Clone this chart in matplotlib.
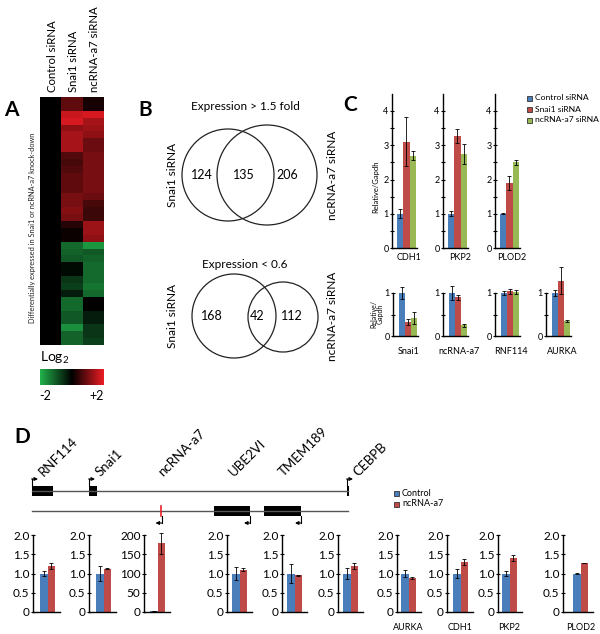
import numpy as np
import matplotlib
matplotlib.use("Agg")
import matplotlib.pyplot as plt
from matplotlib.colors import LinearSegmentedColormap
from matplotlib.patches import Circle, Rectangle

plt.rcParams['font.family'] = ['Lato', 'DejaVu Sans']

# ---- data -------------------------------------------------------------
# Panel A heatmap (log2, one entry per row, top to bottom)
heat_cols = ["Control siRNA", "Snai1 siRNA", "ncRNA-a7 siRNA"]
heat_snai1 = [0.8, 0.8, 1.7, 1.8, 1.2, 1.4, 1.4, 1.4, 0.7, 0.6, 0.7, 0.8,
              0.8, 0.8, 1.0, 1.0, 1.1, 1.0, 0.3, 0.1, 0.1, -1.2, -1.1, -1.0,
              -0.1, -0.1, -0.6, -0.7, -0.3, -1.2, -1.2, -1.0, -1.0, -1.6, -1.1, -1.1]
heat_ncrna = [0.2, 0.2, 1.8, 1.4, 1.3, 1.2, 0.9, 0.9, 1.0, 1.0, 1.0, 1.0,
              1.0, 1.0, 0.9, 0.6, 0.5, 0.5, 1.3, 1.3, 1.2, -1.7, -1.0, -1.1,
              -1.2, -1.2, -1.2, -1.3, -1.2, 0.0, 0.0, -0.3, -0.3, -0.6, -0.6, -0.7]

# Panel B venn counts
venn_up = [124, 135, 206]
venn_down = [168, 42, 112]

# Panel C qPCR (relative/Gapdh)
c_top_genes = ["CDH1", "PKP2", "PLOD2"]
c_top_ctrl = [1.0, 1.0, 1.0]
c_top_ctrl_err = [0.13, 0.07, 0.01]
c_top_snai1 = [3.1, 3.28, 1.9]
c_top_snai1_err = [0.72, 0.2, 0.2]
c_top_ncrna = [2.7, 2.75, 2.5]
c_top_ncrna_err = [0.12, 0.3, 0.08]

c_bot_genes = ["Snai1", "ncRNA-a7", "RNF114", "AURKA"]
c_bot_ctrl = [1.0, 1.0, 1.0, 1.0]
c_bot_ctrl_err = [0.15, 0.17, 0.05, 0.06]
c_bot_snai1 = [0.32, 0.9, 1.04, 1.29]
c_bot_snai1_err = [0.07, 0.06, 0.06, 0.32]
c_bot_ncrna = [0.42, 0.25, 1.03, 0.35]
c_bot_ncrna_err = [0.13, 0.03, 0.05, 0.03]

# Panel D locus + qPCR
d_genes = ["RNF114", "Snai1", "ncRNA-a7", "UBE2VI", "TMEM189", "CEBPB",
           "AURKA", "CDH1", "PKP2", "PLOD2"]
d_ctrl = [1.0, 1.0, 2.0, 1.0, 1.0, 1.0, 1.0, 1.0, 1.0, 1.0]
d_ctrl_err = [0.06, 0.2, 0.5, 0.18, 0.25, 0.15, 0.08, 0.12, 0.06, 0.005]
d_kd = [1.2, 1.12, 178.0, 1.1, 0.95, 1.2, 0.88, 1.3, 1.4, 1.27]
d_kd_err = [0.08, 0.01, 28.0, 0.03, 0.01, 0.08, 0.03, 0.08, 0.08, 0.005]
d_labeled = ["AURKA", "CDH1", "PKP2", "PLOD2"]

# locus drawing (pixel positions along the track)
fwd_genes = ["RNF114", "Snai1", "CEBPB"]
fwd_start = [32, 89, 347]
fwd_end = [53, 97, 349]
rev_genes = ["ncRNA-a7", "UBE2VI", "TMEM189"]
rev_start = [160.5, 214, 264]
rev_end = [161.5, 250, 301]

BLUE, RED, GREEN = "#4a7ebb", "#be4b48", "#98b954"

# ---- layout helpers ----------------------------------------------------
W, H = 600, 634
fig = plt.figure(figsize=(6, 6.34), dpi=100)


def px_axes(left, top, right, bottom):
    return fig.add_axes([left / W, 1 - bottom / H, (right - left) / W, (bottom - top) / H])


canvas = px_axes(0, 0, W, H)
canvas.set_xlim(0, W)
canvas.set_ylim(H, 0)
canvas.axis('off')


def bar_axes(spine_x, top_y, zero_y, n, bw, off, pad, ylim, ticks, labels, minor=None, fs=6.5):
    right = spine_x + off + n * bw + pad
    ax = px_axes(spine_x, top_y, right, zero_y)
    ax.set_facecolor('none')
    ax.set_xlim(-0.5 - off / bw, n - 0.5 + pad / bw)
    ax.set_ylim(*ylim)
    for s in ['top', 'right']:
        ax.spines[s].set_visible(False)
    for s in ['left', 'bottom']:
        ax.spines[s].set_linewidth(1.0)
    ax.set_xticks([])
    ax.set_yticks(ticks)
    ax.set_yticklabels(labels)
    if minor is not None:
        ax.set_yticks(minor, minor=True)
    ax.tick_params(axis='y', which='both', direction='inout', length=3, width=0.8,
                   labelsize=fs, pad=1)
    return ax


def draw_bars(ax, vals, errs, colors):
    for i, (v, e, c) in enumerate(zip(vals, errs, colors)):
        ax.bar(i, v, width=1.0, color=c, clip_on=False, zorder=2)
        ax.errorbar(i, v, yerr=e, fmt='none', ecolor='black', elinewidth=0.6,
                    capsize=1.5, capthick=0.6, clip_on=False, zorder=3)


# ---- panel letters ------------------------------------------------------
for letter, x, y in [("A", 11, 110), ("B", 145, 110), ("C", 350, 105), ("D", 22, 437)]:
    canvas.text(x, y, letter, fontsize=15, fontweight='bold', ha='center', va='center')

# ---- panel A --------------------------------------------------------------
cmap = LinearSegmentedColormap.from_list('gkr', ['#22b24c', '#000000', '#ed1c24'])
heat = np.array([np.zeros(len(heat_snai1)), heat_snai1, heat_ncrna]).T
ax_h = px_axes(40, 97, 104, 345)
ax_h.imshow(heat, cmap=cmap, vmin=-2, vmax=2, aspect='auto', interpolation='nearest')
ax_h.axis('off')

for i, lab in enumerate(heat_cols):
    canvas.text(52 + 21.5 * i, 92, lab, rotation=90, ha='center', va='bottom', fontsize=8.2)

canvas.text(33, 228, "Differentially expressed in Snai1 or ncRNA-a7 knock-down",
            rotation=90, ha='center', va='center', fontsize=5.3, color='#222222')

canvas.text(40, 358, r"Log$_\mathregular{2}$", ha='left', va='center', fontsize=10)
ax_cb = px_axes(40, 369, 104, 385)
ax_cb.imshow(np.linspace(-2, 2, 256)[None, :], cmap=cmap, aspect='auto')
ax_cb.axis('off')
canvas.text(45, 396, "-2", ha='center', va='center', fontsize=9)
canvas.text(97, 396, "+2", ha='center', va='center', fontsize=9)

# ---- panel B --------------------------------------------------------------
canvas.text(245, 106, "Expression > 1.5 fold", ha='center', va='center', fontsize=8.5)
canvas.add_patch(Circle((228, 175), 46, fill=False, lw=0.9, color='#222222'))
canvas.add_patch(Circle((267, 175), 50, fill=False, lw=0.9, color='#222222'))
for x, v in zip([202, 244, 287], venn_up):
    canvas.text(x, 175, str(v), ha='center', va='center', fontsize=9)
canvas.text(172, 175, "Snai1 siRNA", rotation=90, ha='center', va='center', fontsize=8.5)
canvas.text(333, 175, "ncRNA-a7 siRNA", rotation=90, ha='center', va='center', fontsize=8.5)

canvas.text(245, 264, "Expression < 0.6", ha='center', va='center', fontsize=8.5)
canvas.add_patch(Circle((234, 316), 42, fill=False, lw=0.9, color='#222222'))
canvas.add_patch(Circle((283, 317), 35, fill=False, lw=0.9, color='#222222'))
for x, v in zip([212, 257, 292], venn_down):
    canvas.text(x, 316, str(v), ha='center', va='center', fontsize=9)
canvas.text(172, 316, "Snai1 siRNA", rotation=90, ha='center', va='center', fontsize=8.5)
canvas.text(333, 316, "ncRNA-a7 siRNA", rotation=90, ha='center', va='center', fontsize=8.5)

# ---- panel C --------------------------------------------------------------
c_cols = [BLUE, RED, GREEN]
for i, g in enumerate(c_top_genes):
    sx = [392, 443, 495][i]
    ax = bar_axes(sx, 248 - 4.5 * 34.25, 248, 3, 6.3, 5, 1, (0, 4.5),
                  [0, 1, 2, 3, 4], ["0", "1", "2", "3", "4"],
                  minor=[0.5, 1.5, 2.5, 3.5])
    draw_bars(ax, [c_top_ctrl[i], c_top_snai1[i], c_top_ncrna[i]],
              [c_top_ctrl_err[i], c_top_snai1_err[i], c_top_ncrna_err[i]], c_cols)
    canvas.text(sx + 17, 258, g, ha='center', va='center', fontsize=6.5)
canvas.text(376, 187, "Relative/Gapdh", rotation=90, ha='center', va='center', fontsize=5.5)

for i, g in enumerate(c_bot_genes):
    sx = [393, 443, 495, 546][i]
    ax = bar_axes(sx, 293, 336, 3, 6, 6, 1, (0, 1), [0, 1], ["0", "1"], minor=[0.5])
    draw_bars(ax, [c_bot_ctrl[i], c_bot_snai1[i], c_bot_ncrna[i]],
              [c_bot_ctrl_err[i], c_bot_snai1_err[i], c_bot_ncrna_err[i]], c_cols)
    canvas.text(sx + 16, 352, g, ha='center', va='center', fontsize=6.5)
canvas.text(377, 314, "Relative/\nGapdh", rotation=90, ha='center', va='center',
            fontsize=5.0, linespacing=1.0)

for i, lab in enumerate(["Control siRNA", "Snai1 siRNA", "ncRNA-a7 siRNA"]):
    y = 98 + 11 * i
    canvas.add_patch(Rectangle((526.5, y - 2.5), 5, 5, facecolor=c_cols[i],
                               edgecolor='#333333', lw=0.6))
    canvas.text(535, y, lab, ha='left', va='center', fontsize=6.1)

# ---- panel D: locus -------------------------------------------------------
TOP_Y, BOT_Y = 491, 511
canvas.plot([32, 348], [TOP_Y, TOP_Y], color='#555555', lw=1.0)
canvas.plot([32, 348], [BOT_Y, BOT_Y], color='#555555', lw=1.0)
for g, s, e in zip(fwd_genes, fwd_start, fwd_end):
    canvas.add_patch(Rectangle((s, TOP_Y - 5), e - s, 10, color='black', lw=0))
    canvas.plot([s, s], [TOP_Y - 5, TOP_Y - 12], color='black', lw=0.8)
    canvas.annotate('', xy=(s + 6, TOP_Y - 12), xytext=(s - 0.4, TOP_Y - 12),
                    arrowprops=dict(arrowstyle='-|>', lw=0.8, color='black',
                                    mutation_scale=5, shrinkA=0, shrinkB=0))
    canvas.text(s + 13, TOP_Y - 13, g, rotation=45, rotation_mode='anchor',
                ha='left', va='bottom', fontsize=9.5)
for g, s, e in zip(rev_genes, rev_start, rev_end):
    if g == "ncRNA-a7":
        canvas.plot([s + 0.5, s + 0.5], [BOT_Y - 5, BOT_Y + 5], color='#e8202a', lw=1.2)
    else:
        canvas.add_patch(Rectangle((s, BOT_Y - 5), e - s, 10, color='black', lw=0))
    canvas.plot([e, e], [BOT_Y + 5, BOT_Y + 12], color='black', lw=0.8)
    canvas.annotate('', xy=(e - 6, BOT_Y + 12), xytext=(e + 0.4, BOT_Y + 12),
                    arrowprops=dict(arrowstyle='-|>', lw=0.8, color='black',
                                    mutation_scale=5, shrinkA=0, shrinkB=0))
    lx = {"ncRNA-a7": 165, "UBE2VI": 235, "TMEM189": 285}[g]
    canvas.text(lx, TOP_Y - 13, g, rotation=45, rotation_mode='anchor',
                ha='left', va='bottom', fontsize=9.5)

for i, lab in enumerate(["Control", "ncRNA-a7"]):
    y = 493 + 11 * i
    canvas.add_patch(Rectangle((393.5, y - 2.5), 5, 5, facecolor=[BLUE, RED][i],
                               edgecolor='#333333', lw=0.6))
    canvas.text(402, y, lab, ha='left', va='center', fontsize=6.5)

# ---- panel D: qPCR bars -----------------------------------------------------
d_spines = [33, 89, 144, 227, 282, 338, 397, 447, 498, 563]
d_offsets = [7, 7, 6, 5, 5, 5, 4, 6, 4, 10]
for i, g in enumerate(d_genes):
    if d_kd[i] > 10:
        ylim, ticks, labels = (0, 200), [0, 50, 100, 150, 200], ["0", "50", "100", "150", "200"]
    else:
        ylim, ticks, labels = (0, 2.0), [0, 0.5, 1.0, 1.5, 2.0], ["0", "0.5", "1.0", "1.5", "2.0"]
    ax = bar_axes(d_spines[i], 535, 612, 2, 7.5, d_offsets[i], 5, ylim, ticks, labels, fs=8.5)
    draw_bars(ax, [d_ctrl[i], d_kd[i]], [d_ctrl_err[i], d_kd_err[i]], [BLUE, RED])
    if g in d_labeled:
        canvas.text(d_spines[i] + d_offsets[i] + 7.5, 627, g, ha='center', va='center',
                    fontsize=6.5)

fig.savefig("out.png", dpi=100)
